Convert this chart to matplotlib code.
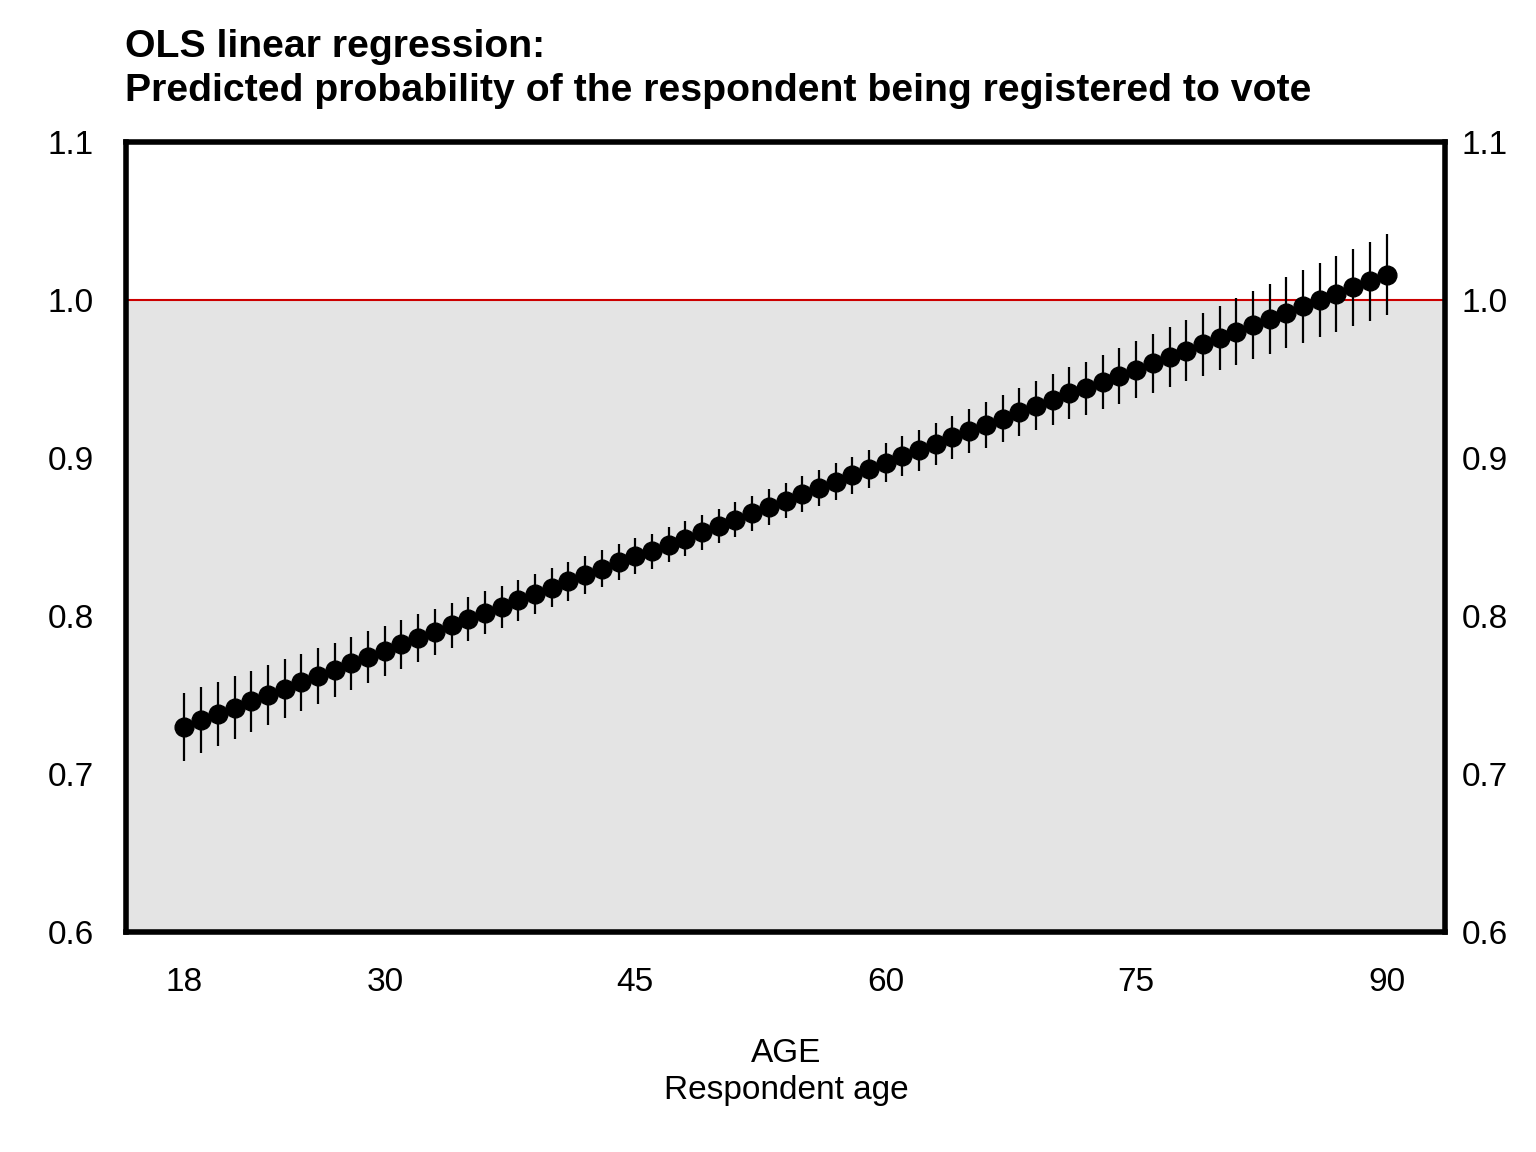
import matplotlib
matplotlib.use("Agg")
import matplotlib.pyplot as plt

plt.rcParams['font.family'] = ['Liberation Sans', 'DejaVu Sans']

# predicted probability by age, with half-width of the confidence interval
ages = list(range(18, 91))
predicted = [
    0.730, 0.734, 0.738, 0.742, 0.746, 0.750, 0.754, 0.758, 0.762, 0.766,
    0.770, 0.774, 0.778, 0.782, 0.786, 0.790, 0.794, 0.798, 0.802, 0.806,
    0.810, 0.814, 0.818, 0.822, 0.826, 0.830, 0.834, 0.838, 0.841, 0.845,
    0.849, 0.853, 0.857, 0.861, 0.865, 0.869, 0.873, 0.877, 0.881, 0.885,
    0.889, 0.893, 0.897, 0.901, 0.905, 0.909, 0.913, 0.917, 0.921, 0.925,
    0.929, 0.933, 0.937, 0.941, 0.944, 0.948, 0.952, 0.956, 0.960, 0.964,
    0.968, 0.972, 0.976, 0.980, 0.984, 0.988, 0.992, 0.996, 1.000, 1.004,
    1.008, 1.012, 1.016,
]
ci_half = [
    0.0215, 0.0210, 0.0205, 0.0200, 0.0195, 0.0191, 0.0186, 0.0181, 0.0177, 0.0172,
    0.0168, 0.0164, 0.0159, 0.0155, 0.0151, 0.0147, 0.0144, 0.0140, 0.0137, 0.0133,
    0.0130, 0.0127, 0.0124, 0.0122, 0.0119, 0.0117, 0.0115, 0.0114, 0.0112, 0.0111,
    0.0111, 0.0110, 0.0110, 0.0110, 0.0111, 0.0111, 0.0112, 0.0114, 0.0115, 0.0117,
    0.0119, 0.0122, 0.0124, 0.0127, 0.0130, 0.0133, 0.0137, 0.0140, 0.0144, 0.0147,
    0.0151, 0.0155, 0.0159, 0.0164, 0.0168, 0.0172, 0.0177, 0.0181, 0.0186, 0.0191,
    0.0195, 0.0200, 0.0205, 0.0210, 0.0215, 0.0220, 0.0225, 0.0230, 0.0235, 0.0240,
    0.0245, 0.0250, 0.0256,
]
x_ticks = [18, 30, 45, 60, 75, 90]
y_ticks = [0.6, 0.7, 0.8, 0.9, 1.0, 1.1]

fig = plt.figure(figsize=(15.36, 11.52), dpi=100)
ax = fig.add_axes([126 / 1536, 1 - 932 / 1152, (1445 - 126) / 1536, (932 - 142) / 1152])

ax.axhspan(0.6, 1.0, color='#e4e4e4', zorder=0, lw=0)
ax.axhline(1.0, color='#cc0000', lw=1.5, zorder=1)
ax.errorbar(ages, predicted, yerr=ci_half, fmt='o', color='black',
            ms=13.5, elinewidth=1.6, capsize=0, zorder=3)

ax.set_xlim(14.5, 93.5)
ax.set_ylim(0.6, 1.1)
ax.set_xticks(x_ticks)
ax.set_yticks(y_ticks)
ax.set_yticklabels([f"{v:.1f}" for v in y_ticks])
ax.tick_params(axis='both', length=0, labelsize=24)
ax.tick_params(axis='x', pad=25)
ax.tick_params(axis='y', pad=23)
for s in ax.spines.values():
    s.set_linewidth(4)

ax2 = ax.twinx()
ax2.set_ylim(0.6, 1.1)
ax2.set_yticks(y_ticks)
ax2.set_yticklabels([f"{v:.1f}" for v in y_ticks])
ax2.tick_params(axis='y', length=0, labelsize=24, pad=12)
for s in ax2.spines.values():
    s.set_visible(False)

fig.text(125 / 1536, 1 - 57 / 1152, "OLS linear regression:",
         fontsize=28.3, fontweight='bold', va='baseline', ha='left')
fig.text(125 / 1536, 1 - 101 / 1152,
         "Predicted probability of the respondent being registered to vote",
         fontsize=28.3, fontweight='bold', va='baseline', ha='left')

fig.text(786 / 1536, 1 - 1062 / 1152, "AGE", fontsize=24, va='baseline', ha='center')
fig.text(786 / 1536, 1 - 1099 / 1152, "Respondent age", fontsize=24, va='baseline', ha='center')

fig.savefig("out.png", dpi=100)
